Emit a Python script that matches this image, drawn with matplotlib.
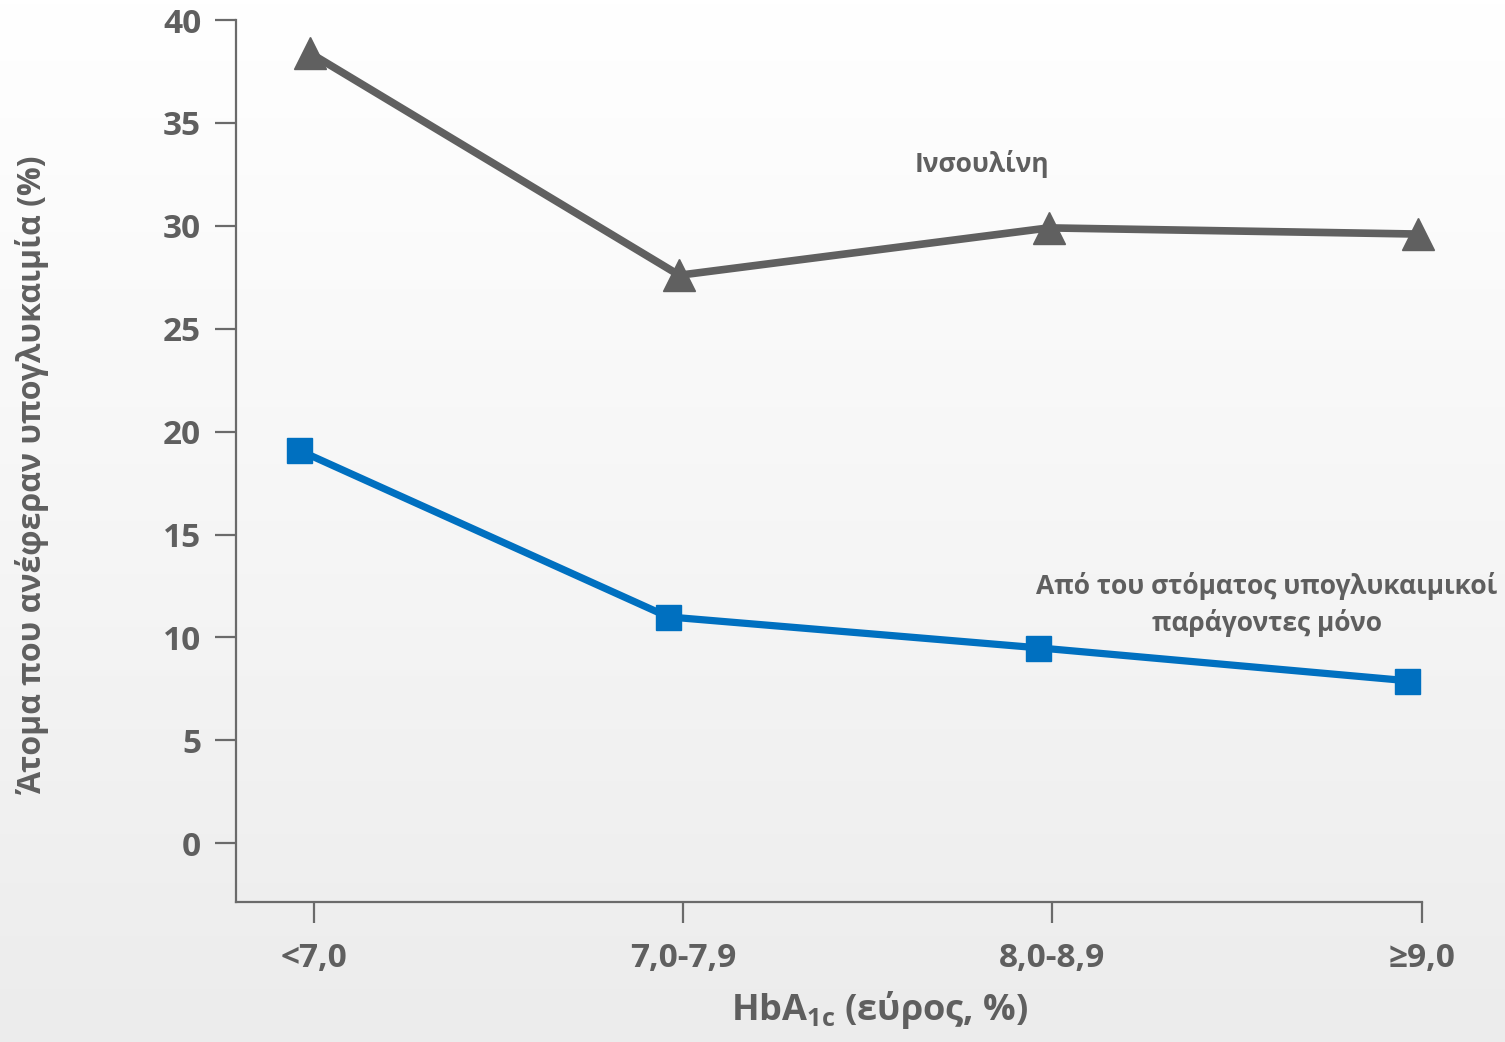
import numpy as np
import matplotlib
matplotlib.use('Agg')
import matplotlib.pyplot as plt
from matplotlib.colors import LinearSegmentedColormap

# data
categories = ['<7,0', '7,0-7,9', '8,0-8,9', '≥9,0']
insulin = [38.4, 27.6, 29.9, 29.6]
oral_only = [19.1, 11.0, 9.5, 7.9]
yticks = [0, 5, 10, 15, 20, 25, 30, 35, 40]

label_insulin = 'Ινσουλίνη'
label_oral = 'Από του στόματος υπογλυκαιμικοί\nπαράγοντες μόνο'
ylabel = 'Άτομα που ανέφεραν υπογλυκαιμία (%)'
xlabel = 'HbA$_{\\mathrm{1c}}$ (εύρος, %)'

txt = '#5f5f5f'
gray = '#606060'
blue = '#0070c0'

plt.rcParams['font.family'] = ['Open Sans', 'DejaVu Sans']
plt.rcParams['font.weight'] = 'bold'
plt.rcParams['mathtext.fontset'] = 'custom'
plt.rcParams['mathtext.rm'] = 'Open Sans:bold'
plt.rcParams['mathtext.bf'] = 'Open Sans:bold'

fig = plt.figure(figsize = (15.05, 10.42), dpi = 100)

# soft vertical gradient behind everything
bg = fig.add_axes([0, 0, 1, 1], zorder = -10)
grad = np.linspace(0, 1, 256).reshape(-1, 1)
cmap = LinearSegmentedColormap.from_list('bg', ['#ffffff', '#f6f6f6', '#ececec'])
bg.imshow(grad, aspect = 'auto', cmap = cmap, extent = [0, 1, 0, 1])
bg.axis('off')

ax = fig.add_axes([0.1568, 0.1344, 0.788, 0.8464])
ax.patch.set_alpha(0)

x = np.arange(len(categories))
ax.plot(x - 0.01, insulin, color = gray, lw = 5.5, marker = '^', ms = 23,
        solid_joinstyle = 'miter', clip_on = False, zorder = 3)
ax.plot(x - 0.04, oral_only, color = blue, lw = 5.2, marker = 's', ms = 18,
        clip_on = False, zorder = 3)

ax.set_xlim(-0.21, 3.0)
ax.set_ylim(-2.85, 40)
ax.set_xticks(x)
ax.set_xticklabels(categories)
ax.set_yticks(yticks)

for side in ['top', 'right']:
  ax.spines[side].set_visible(False)
for side in ['left', 'bottom']:
  ax.spines[side].set_color('#6a6a6a')
  ax.spines[side].set_linewidth(1.6)

ax.tick_params(axis = 'both', colors = '#6a6a6a', width = 1.6, length = 15,
               labelcolor = txt, labelsize = 24)
ax.tick_params(axis = 'x', pad = 14)
ax.tick_params(axis = 'y', pad = 10)
for lab in ax.get_xticklabels() + ax.get_yticklabels():
  lab.set_fontweight('bold')

ax.set_ylabel(ylabel, fontsize = 23, color = txt, fontweight = 'bold')
ax.yaxis.set_label_coords(-0.157, 0.484)
ax.set_xlabel(xlabel, fontsize = 26, color = txt, fontweight = 'bold', labelpad = 10)
ax.xaxis.label.set_x(0.543)

ax.text(1.81, 33.0, label_insulin, fontsize = 19, color = txt, fontweight = 'bold',
        ha = 'center', va = 'center')
ax.text(2.58, 11.6, label_oral, fontsize = 19, color = txt, fontweight = 'bold',
        ha = 'center', va = 'center', linespacing = 1.42)

fig.savefig('out.png', dpi = 100)
